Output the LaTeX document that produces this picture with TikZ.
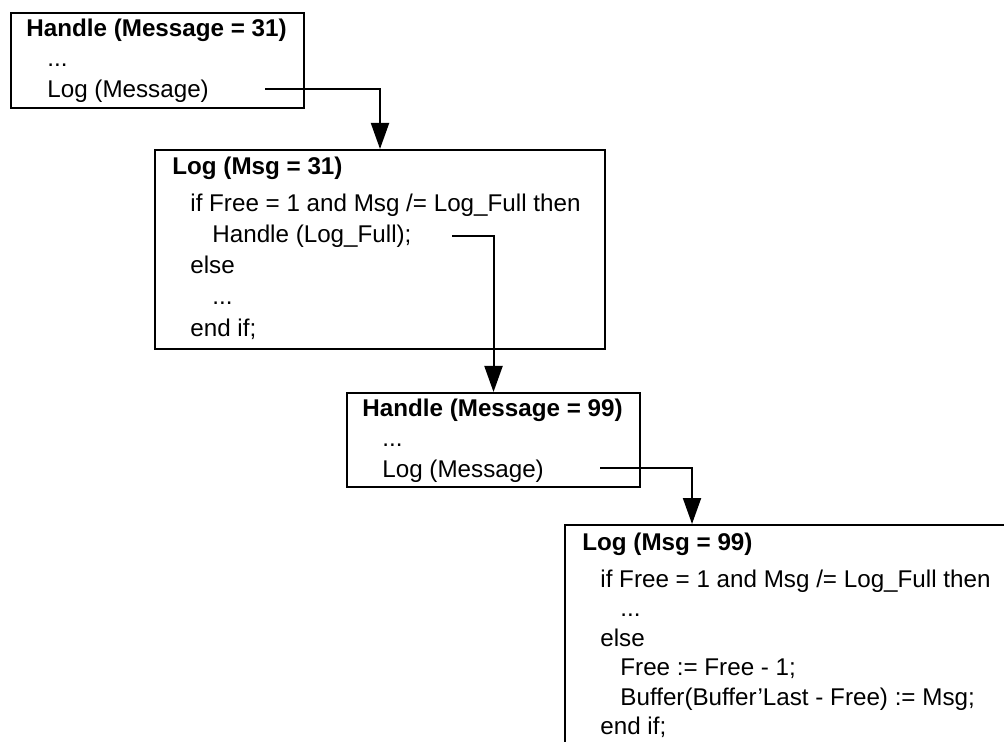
\documentclass[tikz,border=0pt]{standalone}
\usepackage{fontspec}
\setmainfont{Liberation Sans}
\usetikzlibrary{arrows.meta}

\begin{document}
\begin{tikzpicture}[x=0.5pt, y=-0.5pt,
    frame/.style={draw, line width=1pt, inner sep=0pt, anchor=north west},
    code/.style={anchor=base west, inner sep=0pt, font=\fontsize{12.1}{14}\selectfont},
    head/.style={code, font=\fontsize{12.1}{14}\selectfont\bfseries},
    call/.style={line width=1pt, -{Triangle[width=9pt,length=13pt]}}]
  \useasboundingbox (0,0) rectangle (1004,742);
  \clip (0,0) rectangle (1004,742);

  % Handle (Message = 31)
  \node[frame, minimum width=146.5pt, minimum height=47.5pt] (handleA) at (10,12) {};
  \node[head] (handleAtitle) at (26,37) {Handle (Message = 31)};
  \node[code] (handleAdots) at (47,67) {...};
  \node[code] (handleAcall) at (47,98) {Log (Message)};
  \coordinate (fromA) at (265,89);

  % Log (Msg = 31)
  \node[frame, minimum width=225pt, minimum height=99.5pt] (logA) at (154,149) {};
  \node[head] (logAtitle) at (172,175) {Log (Msg = 31)};
  \node[code] (logAif) at (190,212) {if Free = 1 and Msg /= Log\_Full then};
  \node[code] (logAcall) at (212,243) {Handle (Log\_Full);};
  \node[code] (logAelse) at (190,274) {else};
  \node[code] (logAdots) at (212,305) {...};
  \node[code] (logAend) at (190,336) {end if;};
  \coordinate (fromB) at (452,236);

  % Handle (Message = 99)
  \node[frame, minimum width=146.5pt, minimum height=47pt] (handleB) at (346,392) {};
  \node[head] (handleBtitle) at (362,416) {Handle (Message = 99)};
  \node[code] (handleBdots) at (382,446) {...};
  \node[code] (handleBcall) at (382,477) {Log (Message)};
  \coordinate (fromC) at (600,468);

  % Log (Msg = 99), runs off the page
  \node[frame, minimum width=250pt, minimum height=125pt] (logB) at (564,524) {};
  \node[head] (logBtitle) at (582,550) {Log (Msg = 99)};
  \node[code] (logBif) at (600,587) {if Free = 1 and Msg /= Log\_Full then};
  \node[code] (logBdots) at (620,616.5) {...};
  \node[code] (logBelse) at (600,646) {else};
  \node[code] (logBdec) at (620,675.5) {Free := Free - 1;};
  \node[code] (logBstore) at (620,705) {Buffer(Buffer'Last - Free) := Msg;};
  \node[code] (logBend) at (600,734.5) {end if;};
  \coordinate (bendC) at (692,468);

  % Calls
  \draw[call] (fromA) -| (logA.north);
  \draw[call] (fromB) -| (handleB.north);
  \draw[call] (fromC) -- (bendC) -- (bendC |- logB.north);
\end{tikzpicture}
\end{document}
